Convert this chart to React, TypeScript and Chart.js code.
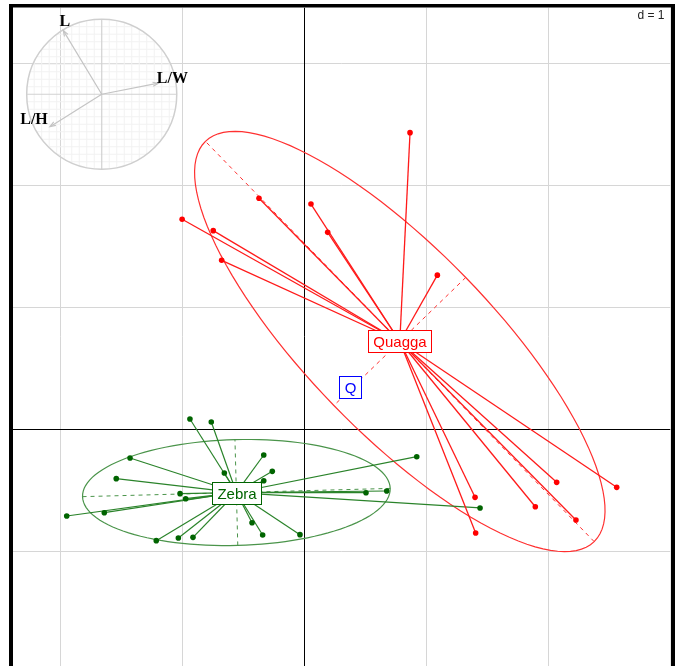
import React, { useEffect, useRef } from "react";
import { Chart, registerables } from "chart.js";
Chart.register(...registerables);

// ---- data (factorial map coordinates, grid step d = 1) ----
const classNames = ["Quagga", "Zebra"];
const quaggaX = [0.865, -0.373, 0.053, -1.003, -0.748, 0.19, -0.679, 1.089, 2.067, 2.559, 1.398, 1.892, 2.225, 1.403, 0.78];
const quaggaY = [2.433, 1.895, 1.848, 1.723, 1.63, 1.616, 1.387, 1.265, -0.433, -0.474, -0.556, -0.633, -0.742, -0.848, 0.71];
const zebraX = [-0.939, -0.764, -0.334, 0.92, -1.43, -0.264, -0.657, -1.543, -0.334, -1.02, 0.504, 0.674, -0.974, 1.439, -1.949, -1.641, -0.43, -1.215, -1.034, -0.914, -0.343, -0.037];
const zebraY = [0.086, 0.061, -0.209, -0.223, -0.234, -0.343, -0.357, -0.403, -0.42, -0.526, -0.518, -0.504, -0.567, -0.643, -0.709, -0.682, -0.764, -0.911, -0.889, -0.884, -0.865, -0.862];
const suppName = "Q";
const suppX = 0.373;
const suppY = 0.352;
// correlation circle (variables)
const varNames = ["L", "L/W", "L/H"];
const varX = [-0.512, 0.755, -0.689];
const varY = [0.848, 0.147, -0.432];
const gridStep = 1;
const gridLabel = "d = 1";

// ---- layout constants ----
const X_MIN = -2.3893, X_MAX = 3.0, Y_MIN = -1.9385, Y_MAX = 3.459;
const CIRC_CX = -1.662, CIRC_CY = 2.748, CIRC_R = 0.615;
const RED = "#ff0000";
const GREEN = "#006400";
const LABEL_FONT = '15px "Liberation Sans", Arial, sans-serif';

function ellipseOf(xs: number[], ys: number[]) {
  const n = xs.length;
  const mx = xs.reduce((s, v) => s + v, 0) / n;
  const my = ys.reduce((s, v) => s + v, 0) / n;
  let sxx = 0, syy = 0, sxy = 0;
  for (let i = 0; i < n; i++) {
    const dx = xs[i] - mx, dy = ys[i] - my;
    sxx += dx * dx; syy += dy * dy; sxy += dx * dy;
  }
  sxx /= n; syy /= n; sxy /= n;
  const tr = (sxx + syy) / 2;
  const d = Math.sqrt(((sxx - syy) / 2) ** 2 + sxy * sxy);
  const l1 = tr + d, l2 = Math.max(tr - d, 0);
  const theta = Math.abs(sxy) < 1e-12 ? (sxx >= syy ? 0 : Math.PI / 2) : Math.atan2(l1 - sxx, sxy);
  return { mx, my, a: 1.5 * Math.sqrt(l1), b: 1.5 * Math.sqrt(l2), theta };
}

const groups = [
  { name: classNames[0], xs: quaggaX, ys: quaggaY, color: RED, line: "#ff1a1a", ell: "#ff3030", lw: 1.3 },
  { name: classNames[1], xs: zebraX, ys: zebraY, color: GREEN, line: "#2a832a", ell: "#4a944a", lw: 1.2 },
];

export default function App() {
  const ref = useRef<HTMLCanvasElement | null>(null);
  useEffect(() => {
    if (!ref.current) return;
    const geo = groups.map((g) => ellipseOf(g.xs, g.ys));

    const datasets: any[] = [];
    groups.forEach((g) => {
      datasets.push({
        data: g.xs.map((x, i) => ({ x, y: g.ys[i] })),
        pointRadius: 2.8,
        pointBackgroundColor: g.color,
        pointBorderColor: g.color,
        pointBorderWidth: 0,
        showLine: false,
      });
    });
    groups.forEach((g, gi) => {
      const e = geo[gi];
      g.xs.forEach((x, i) => {
        datasets.push({
          data: [{ x: e.mx, y: e.my }, { x, y: g.ys[i] }],
          showLine: true,
          borderColor: g.line,
          borderWidth: g.lw,
          pointRadius: 0,
        });
      });
    });

    const overlay = {
      id: "overlay",
      beforeDatasetsDraw(chart: any) {
        const { ctx } = chart;
        const xs = chart.scales.x, ys = chart.scales.y;
        const px = (v: number) => xs.getPixelForValue(v);
        const py = (v: number) => ys.getPixelForValue(v);
        const area = chart.chartArea;
        ctx.save();
        ctx.beginPath();
        ctx.rect(area.left, area.top, area.right - area.left, area.bottom - area.top);
        ctx.clip();
        // grid (d = 1)
        ctx.lineWidth = 1;
        const vlines: number[] = [];
        for (let v = Math.ceil(xs.min / gridStep) * gridStep; v <= xs.max + 1e-9; v += gridStep) vlines.push(v);
        const hlines: number[] = [];
        for (let v = Math.ceil(ys.min / gridStep) * gridStep; v <= ys.max + 1e-9; v += gridStep) hlines.push(v);
        const drawGrid = (zero: boolean) => {
          ctx.strokeStyle = zero ? "#000" : "#d6d6d6";
          vlines.forEach((v) => {
            if ((Math.abs(v) < 1e-9) !== zero) return;
            const x = Math.floor(px(v)) + 0.5;
            ctx.beginPath(); ctx.moveTo(x, area.top); ctx.lineTo(x, area.bottom); ctx.stroke();
          });
          hlines.forEach((v) => {
            if ((Math.abs(v) < 1e-9) !== zero) return;
            const y = Math.floor(py(v)) + 0.5;
            ctx.beginPath(); ctx.moveTo(area.left, y); ctx.lineTo(area.right, y); ctx.stroke();
          });
        };
        drawGrid(false);
        drawGrid(true);
        // correlation circle
        const cx = px(CIRC_CX), cy = py(CIRC_CY);
        const r = px(CIRC_CX + CIRC_R) - cx;
        ctx.save();
        ctx.beginPath();
        ctx.arc(cx, cy, r, 0, Math.PI * 2);
        ctx.clip();
        ctx.strokeStyle = "#f2f2f2";
        ctx.lineWidth = 1;
        for (let k = -9; k <= 9; k++) {
          if (k === 0) continue;
          const o = (k / 10) * r;
          ctx.beginPath(); ctx.moveTo(cx + o, cy - r); ctx.lineTo(cx + o, cy + r); ctx.stroke();
          ctx.beginPath(); ctx.moveTo(cx - r, cy + o); ctx.lineTo(cx + r, cy + o); ctx.stroke();
        }
        ctx.restore();
        ctx.strokeStyle = "#d2d2d2";
        ctx.lineWidth = 1.2;
        ctx.beginPath(); ctx.moveTo(cx - r, cy); ctx.lineTo(cx + r, cy); ctx.stroke();
        ctx.beginPath(); ctx.moveTo(cx, cy - r); ctx.lineTo(cx, cy + r); ctx.stroke();
        ctx.strokeStyle = "#cfcfcf";
        ctx.lineWidth = 1.5;
        ctx.beginPath(); ctx.arc(cx, cy, r, 0, Math.PI * 2); ctx.stroke();
        // arrows
        ctx.strokeStyle = "#c4c4c4";
        ctx.lineWidth = 1.2;
        varNames.forEach((nm, i) => {
          const tx = px(CIRC_CX + varX[i] * CIRC_R), ty = py(CIRC_CY + varY[i] * CIRC_R);
          ctx.beginPath(); ctx.moveTo(cx, cy); ctx.lineTo(tx, ty); ctx.stroke();
          const ang = Math.atan2(ty - cy, tx - cx);
          const L = 6, A = 0.35;
          ctx.beginPath();
          ctx.moveTo(tx - L * Math.cos(ang - A), ty - L * Math.sin(ang - A));
          ctx.lineTo(tx, ty);
          ctx.lineTo(tx - L * Math.cos(ang + A), ty - L * Math.sin(ang + A));
          ctx.stroke();
        });
        ctx.fillStyle = "#000";
        ctx.font = 'bold 16px "Liberation Serif", "Times New Roman", serif';
        ctx.textAlign = "center";
        ctx.textBaseline = "middle";
        const lblOff = [[1.5, -9], [14, -4], [-16, -7]];
        varNames.forEach((nm, i) => {
          const tx = px(CIRC_CX + varX[i] * CIRC_R), ty = py(CIRC_CY + varY[i] * CIRC_R);
          ctx.fillText(nm, tx + lblOff[i][0], ty + lblOff[i][1]);
        });
        // class ellipses and axes
        groups.forEach((g, gi) => {
          const e = geo[gi];
          const ct = Math.cos(e.theta), st = Math.sin(e.theta);
          ctx.strokeStyle = g.ell;
          ctx.lineWidth = 1.2;
          ctx.setLineDash([]);
          ctx.beginPath();
          for (let k = 0; k <= 120; k++) {
            const t = (k / 120) * Math.PI * 2;
            const ex = e.mx + e.a * Math.cos(t) * ct - e.b * Math.sin(t) * st;
            const ey = e.my + e.a * Math.cos(t) * st + e.b * Math.sin(t) * ct;
            if (k === 0) ctx.moveTo(px(ex), py(ey)); else ctx.lineTo(px(ex), py(ey));
          }
          ctx.closePath();
          ctx.stroke();
          ctx.setLineDash([4, 4]);
          ctx.lineWidth = 1;
          ctx.beginPath();
          ctx.moveTo(px(e.mx - e.a * ct), py(e.my - e.a * st));
          ctx.lineTo(px(e.mx + e.a * ct), py(e.my + e.a * st));
          ctx.stroke();
          ctx.beginPath();
          ctx.moveTo(px(e.mx + e.b * st), py(e.my - e.b * ct));
          ctx.lineTo(px(e.mx - e.b * st), py(e.my + e.b * ct));
          ctx.stroke();
          ctx.setLineDash([]);
        });
        ctx.restore();
      },
      afterDatasetsDraw(chart: any) {
        const { ctx } = chart;
        const xs = chart.scales.x, ys = chart.scales.y;
        const px = (v: number) => xs.getPixelForValue(v);
        const py = (v: number) => ys.getPixelForValue(v);
        const box = (text: string, x: number, y: number, color: string) => {
          ctx.font = LABEL_FONT;
          const w = ctx.measureText(text).width + 10;
          const h = 22;
          const l = Math.round(x - w / 2) + 0.5, t = Math.round(y - h / 2) + 0.5;
          ctx.fillStyle = "#fff";
          ctx.fillRect(l, t, Math.round(w), h);
          ctx.strokeStyle = color;
          ctx.lineWidth = 1;
          ctx.strokeRect(l, t, Math.round(w), h);
          ctx.fillStyle = color;
          ctx.textAlign = "center";
          ctx.textBaseline = "middle";
          ctx.fillText(text, l + Math.round(w) / 2, t + h / 2 + 1);
        };
        groups.forEach((g, gi) => box(g.name, px(geo[gi].mx), py(geo[gi].my), g.color));
        box(suppName, px(suppX), py(suppY), "#0000ff");
        // d = 1
        ctx.fillStyle = "#222";
        ctx.font = '12px "Liberation Sans", Arial, sans-serif';
        ctx.textAlign = "right";
        ctx.textBaseline = "alphabetic";
        ctx.fillText(gridLabel, 664.5, 18.5);
        // frame
        ctx.fillStyle = "#000";
        ctx.fillRect(9, 4, 4, 662);
        ctx.fillRect(9, 4, 666, 3.5);
        ctx.fillRect(671, 4, 4, 662);
      },
    };

    const chart = new Chart(ref.current, {
      type: "scatter",
      data: { datasets },
      options: {
        animation: false,
        responsive: false,
        events: [],
        layout: { autoPadding: false, padding: { left: 13, right: 7.5, top: 7.5, bottom: 0 } },
        plugins: { legend: { display: false }, tooltip: { enabled: false } },
        scales: {
          x: { type: "linear", display: false, min: X_MIN, max: X_MAX },
          y: { type: "linear", display: false, min: Y_MIN, max: Y_MAX },
        },
      },
      plugins: [overlay],
    } as any);
    return () => chart.destroy();
  }, []);

  return (
    <div style={{ position: "absolute", left: 0, top: 0, width: 678, height: 666, background: "#fff" }}>
      <canvas ref={ref} width={678} height={666} style={{ display: "block" }} />
    </div>
  );
}
